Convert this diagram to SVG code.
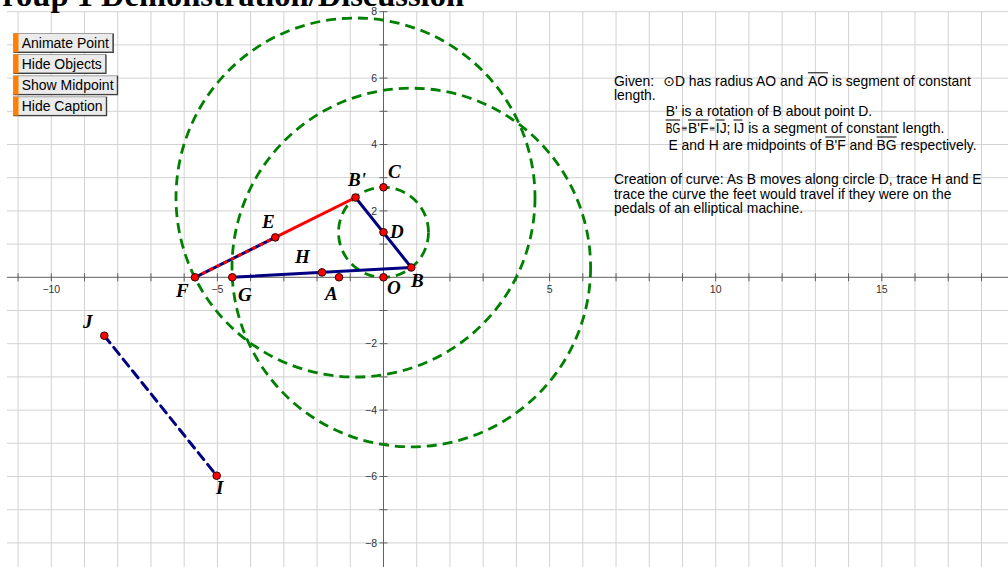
<svg xmlns="http://www.w3.org/2000/svg" width="1008" height="567" viewBox="0 0 1008 567">
<style>
.grid{stroke:#d2d2d2;stroke-width:1;fill:none}
.axis{stroke:#606060;stroke-width:1;fill:none}
.tick{font-family:"Liberation Sans",Arial,sans-serif;font-size:10.5px;fill:#333}
.btn rect.b{fill:#ebebeb;stroke:#a0a0a0;stroke-width:1}
.btn path{stroke:#404040;stroke-width:1.2;fill:none}
.btn rect.o{fill:#ff8000}
.btn text{font-family:"Liberation Sans",Arial,sans-serif;font-size:14px;fill:#000}
.cap{font-family:"Liberation Sans",Arial,"DejaVu Sans",sans-serif;font-size:13.9px;fill:#000}
.eq{font-family:"DejaVu Sans",sans-serif;font-size:7.5px;fill:#000}
.ovl{stroke:#000;stroke-width:1}
.loc{fill:none;stroke:#008000;stroke-width:2.8;stroke-dasharray:10 6}
.seg{fill:none;stroke:#000080;stroke-width:3;stroke-linecap:round}
.red{fill:none;stroke:#ff0000;stroke-width:3}
.pt{fill:#ff0000;stroke:#300000;stroke-width:1}
.lbl{font-family:"Liberation Serif","Times New Roman",serif;font-weight:bold;font-style:italic;font-size:19px;fill:#000}
</style>
<rect width="1008" height="567" fill="#ffffff"/>
<g id="grid">
<path class="grid" d="M18.08 11.7V567M51.3 11.7V567M84.52 11.7V567M117.74 11.7V567M150.96 11.7V567M184.18 11.7V567M217.4 11.7V567M250.62 11.7V567M283.84 11.7V567M317.06 11.7V567M350.28 11.7V567M416.72 11.7V567M449.94 11.7V567M483.16 11.7V567M516.38 11.7V567M549.6 11.7V567M582.82 11.7V567M616.04 11.7V567M649.26 11.7V567M682.48 11.7V567M715.7 11.7V567M748.92 11.7V567M782.14 11.7V567M815.36 11.7V567M848.58 11.7V567M881.8 11.7V567M915.02 11.7V567M948.24 11.7V567M981.46 11.7V567"/>
<path class="grid" d="M7 11.7H1008M7 44.9H1008M7 78.1H1008M7 111.3H1008M7 144.5H1008M7 177.7H1008M7 210.9H1008M7 244.1H1008M7 310.5H1008M7 343.7H1008M7 376.9H1008M7 410.1H1008M7 443.3H1008M7 476.5H1008M7 509.7H1008M7 542.9H1008"/>
</g>
<g id="axes">
<path class="axis" d="M7 277.3H1008M383.5 11.7V567"/>
<path class="axis" d="M18.08 273.3v8M51.3 273.3v8M84.52 273.3v8M117.74 273.3v8M150.96 273.3v8M184.18 273.3v8M217.4 273.3v8M250.62 273.3v8M283.84 273.3v8M317.06 273.3v8M350.28 273.3v8M416.72 273.3v8M449.94 273.3v8M483.16 273.3v8M516.38 273.3v8M549.6 273.3v8M582.82 273.3v8M616.04 273.3v8M649.26 273.3v8M682.48 273.3v8M715.7 273.3v8M748.92 273.3v8M782.14 273.3v8M815.36 273.3v8M848.58 273.3v8M881.8 273.3v8M915.02 273.3v8M948.24 273.3v8M981.46 273.3v8"/>
<path class="axis" d="M379.5 11.7h8M379.5 44.9h8M379.5 78.1h8M379.5 111.3h8M379.5 144.5h8M379.5 177.7h8M379.5 210.9h8M379.5 244.1h8M379.5 310.5h8M379.5 343.7h8M379.5 376.9h8M379.5 410.1h8M379.5 443.3h8M379.5 476.5h8M379.5 509.7h8M379.5 542.9h8"/>
<g class="tick" text-anchor="middle">
<text x="51.3" y="292.8">−10</text>
<text x="217.4" y="292.8">−5</text>
<text x="549.6" y="292.8">5</text>
<text x="715.7" y="292.8">10</text>
<text x="881.8" y="292.8">15</text>
</g>
<g class="tick" text-anchor="end">
<text x="377" y="15.4">8</text>
<text x="377" y="81.8">6</text>
<text x="377" y="148.2">4</text>
<text x="377" y="214.6">2</text>
<text x="377" y="347.4">−2</text>
<text x="377" y="413.8">−4</text>
<text x="377" y="480.2">−6</text>
<text x="377" y="546.6">−8</text>
</g>
</g>
<text id="title" x="-23" y="6" font-family="'Liberation Serif','Times New Roman',serif" font-weight="bold" font-size="32.5" fill="#000">Group 1 Demonstration/Discussion</text>
<g id="buttons">
<g id="btn-animate" class="btn"><rect class="b" x="13.5" y="33.5" width="99" height="18.5"/><path d="M13.5 52.3H113.3V33.5"/><rect class="o" x="13.5" y="33.5" width="5" height="18.8"/><text x="21.7" y="47.7">Animate Point</text></g>
<g id="btn-hide" class="btn"><rect class="b" x="13.5" y="54.5" width="92" height="18.5"/><path d="M13.5 73.3H106V54.5"/><rect class="o" x="13.5" y="54.5" width="5" height="18.8"/><text x="21.7" y="68.7">Hide Objects</text></g>
<g id="btn-mid" class="btn"><rect class="b" x="13.5" y="75.8" width="103.5" height="18.5"/><path d="M13.5 94.6H117.6V75.8"/><rect class="o" x="13.5" y="75.8" width="5" height="18.8"/><text x="21.7" y="90">Show Midpoint</text></g>
<g id="btn-caption" class="btn"><rect class="b" x="13.5" y="96.8" width="92.5" height="18.5"/><path d="M13.5 115.6H106.6V96.8"/><rect class="o" x="13.5" y="96.8" width="5" height="18.8"/><text x="21.7" y="111">Hide Caption</text></g>
</g>
<g id="caption">
<text class="cap" x="614" y="85.8">Given:</text>
<text class="cap" x="663.3" y="85.8">⊙D has radius AO and</text>
<text class="cap" x="808" y="85.8">AO is segment of constant</text>
<text class="cap" x="614" y="99.5">length.</text>
<text class="cap" x="665.7" y="116">B' is a rotation of B about point D.</text>
<text class="cap" x="665.7" y="133" textLength="14.5" lengthAdjust="spacingAndGlyphs">BG</text>
<text class="eq" x="681.3" y="131">≅</text>
<text class="cap" x="688" y="133">B'F</text>
<text class="eq" x="709" y="131">≅</text>
<text class="cap" x="715.8" y="133">IJ;</text>
<text class="cap" x="733.5" y="133">IJ is a segment of constant length.</text>
<text class="cap" x="668.5" y="150">E and H are midpoints of B'F and BG respectively.</text>
<text class="cap" x="614" y="183.5">Creation of curve: As B moves along circle D, trace H and E</text>
<text class="cap" x="614" y="198.5">trace the curve the feet would travel if they were on the</text>
<text class="cap" x="614" y="213">pedals of an elliptical machine.</text>
<line class="ovl" x1="808" y1="72.8" x2="828" y2="72.8"/>
<line class="ovl" x1="665.7" y1="120" x2="680.2" y2="120"/>
<line class="ovl" x1="688" y1="120" x2="708.4" y2="120"/>
<line class="ovl" x1="715.8" y1="120" x2="724.6" y2="120"/>
<line class="ovl" x1="733.5" y1="120" x2="742.3" y2="120"/>
<line class="ovl" x1="825.3" y1="137" x2="845.7" y2="137"/>
<line class="ovl" x1="876.6" y1="137" x2="896.7" y2="137"/>
</g>
<g id="loci">
<circle id="circle-D" class="loc" cx="383.5" cy="232.3" r="45"/>
<circle id="circle-Bp" class="loc" cx="355.5" cy="197.5" r="179.5"/>
<circle id="circle-B" class="loc" cx="411.3" cy="267.5" r="179.3"/>
</g>
<g id="connectors">
<line class="red" x1="275.3" y1="237.4" x2="355.5" y2="197.5"/>
<line class="seg" x1="195" y1="277.3" x2="275.3" y2="237.4" stroke-linecap="butt"/>
<line x1="195" y1="277.3" x2="275.3" y2="237.4" stroke="#ff0000" stroke-width="3" stroke-dasharray="4 4"/>
<line class="seg" x1="355.5" y1="197.5" x2="411.3" y2="267.5"/>
<line class="seg" x1="232.3" y1="277.3" x2="411.3" y2="267.5"/>
<line class="seg" x1="104.3" y1="335.7" x2="216.7" y2="475.7" stroke-dasharray="9 6" stroke-linecap="butt"/>
</g>
<g id="point-O"><circle class="pt" cx="383.5" cy="277.3" r="3.8"/><text class="lbl" x="387" y="294">O</text></g>
<g id="point-A"><circle class="pt" cx="339" cy="277.3" r="3.8"/><text class="lbl" x="325" y="300">A</text></g>
<g id="point-B"><circle class="pt" cx="411.3" cy="267.5" r="3.8"/><text class="lbl" x="411" y="287">B</text></g>
<g id="point-Bp"><circle class="pt" cx="355.5" cy="197.5" r="3.8"/><text class="lbl" x="348" y="186">B'</text></g>
<g id="point-C"><circle class="pt" cx="383.5" cy="187.3" r="3.8"/><text class="lbl" x="388" y="178.3">C</text></g>
<g id="point-D"><circle class="pt" cx="383.5" cy="232.3" r="3.8"/><text class="lbl" x="390" y="238.3">D</text></g>
<g id="point-E"><circle class="pt" cx="275.3" cy="237.4" r="3.8"/><text class="lbl" x="262" y="228">E</text></g>
<g id="point-F"><circle class="pt" cx="195" cy="277.3" r="3.8"/><text class="lbl" x="176" y="297">F</text></g>
<g id="point-G"><circle class="pt" cx="232.3" cy="277.3" r="3.8"/><text class="lbl" x="238" y="300.5">G</text></g>
<g id="point-H"><circle class="pt" cx="322" cy="272.4" r="3.8"/><text class="lbl" x="295" y="262.7">H</text></g>
<g id="point-I"><circle class="pt" cx="216.7" cy="475.7" r="3.8"/><text class="lbl" x="216" y="494">I</text></g>
<g id="point-J"><circle class="pt" cx="104.3" cy="335.7" r="3.8"/><text class="lbl" x="83" y="328">J</text></g>
</svg>
